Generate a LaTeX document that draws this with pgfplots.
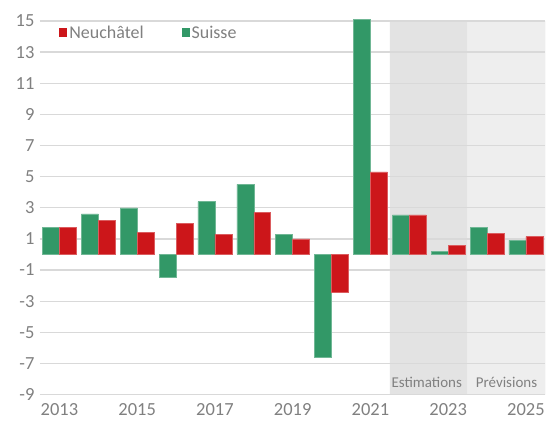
\documentclass[border=0pt]{standalone}
\usepackage{fontspec}
\setmainfont{Carlito}
\usepackage{pgfplots}
\pgfplotsset{compat=1.18}

\definecolor{suisse}{RGB}{50,152,103}
\definecolor{neuch}{RGB}{204,22,26}
\definecolor{gridgray}{RGB}{217,217,217}
\definecolor{txtgray}{RGB}{128,128,128}
\definecolor{estim}{RGB}{227,227,227}
\definecolor{prev}{RGB}{238,238,238}

\pgfplotsset{
    sqlegend/.style={legend image code/.code={\fill[##1, draw=none] (0pt,-4.5pt) rectangle (8pt,4.5pt);}},
}

\begin{document}
\begin{tikzpicture}
\begin{axis}[
    scale only axis,
    width=506pt, height=374pt,
    xmin=-0.5, xmax=12.5,
    ymin=-9, ymax=15,
    clip=false,
    axis line style={draw=none},
    major tick length=0pt,
    ytick={-9,-7,...,15},
    xtick={0,2,...,12},
    xticklabels={2013,2015,2017,2019,2021,2023,2025},
    ymajorgrids,
    major grid style={gridgray, line width=1.3pt},
    tick label style={font=\fontsize{18.5}{18.5}\selectfont, text=txtgray},
    /pgf/number format/assume math mode=true,
    yticklabel style={xshift=-2pt},
    xticklabel style={yshift=-5pt},
    legend style={at={(rel axis cs:0.032,0.968)}, anchor=west,
        draw=none, fill=none, font=\fontsize{18}{18}\selectfont,
        text=txtgray, legend columns=2,
        /tikz/every even column/.append style={column sep=36pt}},
    legend cell align=left,
]

% shaded periods
\addplot[fill=estim, draw=none, forget plot] coordinates {(8.5,-9) (10.5,-9) (10.5,15) (8.5,15) (8.5,-9)};
\addplot[fill=prev, draw=none, forget plot] coordinates {(10.5,-9) (12.5,-9) (12.5,15) (10.5,15) (10.5,-9)};
\pgfplotsinvokeforeach{-9,-7,...,15}{
    \draw[gridgray, line width=1.3pt] (axis cs:8.5,#1) -- (axis cs:12.5,#1);
}

\addlegendimage{sqlegend, fill=neuch}
\addlegendentry{Neuchâtel}
\addlegendimage{sqlegend, fill=suisse}
\addlegendentry{Suisse}

% Suisse
\addplot[ybar, bar width=0.436, bar shift=-0.218, fill=suisse, draw=suisse!70!white, line width=0.5pt, forget plot]
coordinates {
    (0,1.75) (1,2.6) (2,3.0) (3,-1.45) (4,3.4) (5,4.5) (6,1.3)
    (7,-6.6) (8,15.1) (9,2.55) (10,0.2) (11,1.75) (12,0.9)
};

% Neuchatel
\addplot[ybar, bar width=0.436, bar shift=0.218, fill=neuch, draw=neuch!70!white, line width=0.5pt, forget plot]
coordinates {
    (0,1.75) (1,2.2) (2,1.4) (3,2.0) (4,1.3) (5,2.7) (6,1.0)
    (7,-2.4) (8,5.3) (9,2.55) (10,0.6) (11,1.35) (12,1.15)
};

\node[text=txtgray, font=\fontsize{15}{15}\selectfont] at (axis cs:9.45,-8.2) {Estimations};
\node[text=txtgray, font=\fontsize{15}{15}\selectfont] at (axis cs:11.5,-8.2) {Prévisions};

\end{axis}
\path (-40pt,-31pt) rectangle (508pt,395pt);
\end{tikzpicture}
\end{document}
